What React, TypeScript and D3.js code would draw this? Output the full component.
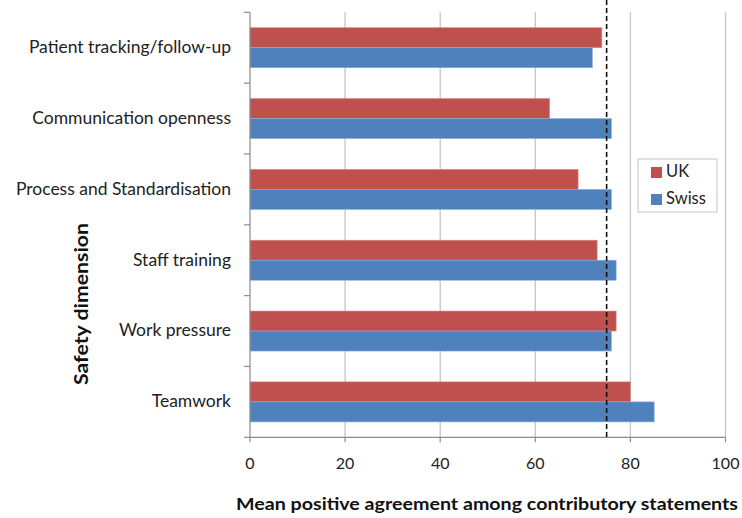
import React from "react";
import * as d3 from "d3";

const categories = [
  "Patient tracking/follow-up",
  "Communication openness",
  "Process and Standardisation",
  "Staff training",
  "Work pressure",
  "Teamwork",
];
const seriesNames = ["UK", "Swiss"];
const ukValues = [74, 63, 69, 73, 77, 80];
const swissValues = [72, 76, 76, 77, 76, 85];
const xTicks = [0, 20, 40, 60, 80, 100];
const referenceValue = 75;
const colors = ["#C0504D", "#4F81BD"];

const W = 742;
const H = 518;
const left = 250;
const right = 725.5;
const top = 12.3;
const bottom = 437.3;
const font = "Lato, 'Open Sans', sans-serif";

export default function App() {
  const x = d3.scaleLinear().domain([0, 100]).range([left, right]);
  const y = d3
    .scaleBand<string>()
    .domain(categories)
    .range([top, bottom])
    .paddingInner(0.435)
    .paddingOuter(0.2175);
  const sub = d3.scaleBand<string>().domain(seriesNames).range([0, y.bandwidth()]);
  const values = [ukValues, swissValues];
  const step = y.step();
  const boundaries = d3.range(categories.length + 1).map((i) => top + i * step);

  return (
    <svg
      width={W}
      height={H}
      style={{ position: "absolute", left: 0, top: 0, background: "#fff" }}
      fontFamily={font}
    >
      <rect width={W} height={H} fill="#fff" />
      {/* gridlines */}
      {xTicks.slice(1).map((t) => (
        <line key={t} x1={x(t)} x2={x(t)} y1={top} y2={bottom} stroke="#c4c4c4" strokeWidth={1.3} />
      ))}
      {/* bars */}
      {categories.map((c, i) => (
        <g key={c} transform={`translate(0,${y(c)})`}>
          {seriesNames.map((s, j) => (
            <rect
              key={s}
              x={x(0)}
              y={sub(s)}
              width={x(values[j][i]) - x(0)}
              height={sub.bandwidth()}
              fill={colors[j]}
              stroke={j === 0 ? "#d88a88" : "#8aaedb"}
              strokeWidth={0.6}
            />
          ))}
        </g>
      ))}
      {/* axes */}
      <line x1={left} x2={left} y1={top} y2={bottom} stroke="#8c8c8c" strokeWidth={1.2} />
      <line x1={left} x2={right} y1={bottom} y2={bottom} stroke="#8c8c8c" strokeWidth={1.2} />
      {boundaries.map((b, i) => (
        <line key={i} x1={left - 6} x2={left} y1={b} y2={b} stroke="#8c8c8c" strokeWidth={1.2} />
      ))}
      {xTicks.map((t) => (
        <g key={t}>
          <line x1={x(t)} x2={x(t)} y1={bottom} y2={bottom + 5} stroke="#8c8c8c" strokeWidth={1.2} />
          <text x={x(t)} y={bottom + 32} textAnchor="middle" fontSize={16} fill="#222">
            {t}
          </text>
        </g>
      ))}
      {/* category labels */}
      {categories.map((c) => (
        <text
          key={c}
          x={231}
          y={(y(c) as number) + y.bandwidth() / 2 + 1}
          textAnchor="end"
          dominantBaseline="middle"
          fontSize={17.5}
          fill="#222"
        >
          {c}
        </text>
      ))}
      {/* reference dashed line */}
      <line
        x1={x(referenceValue)}
        x2={x(referenceValue)}
        y1={0}
        y2={bottom}
        stroke="#111"
        strokeWidth={1.6}
        strokeDasharray="5,3"
      />
      {/* legend */}
      <rect x={638} y={159} width={79} height={53} fill="#fff" stroke="#c4c4c4" strokeWidth={1} />
      {seriesNames.map((s, j) => (
        <g key={s} transform={`translate(651,${167 + j * 27})`}>
          <rect width={11} height={11} fill={colors[j]} />
          <text x={15} y={6} dominantBaseline="middle" fontSize={16.5} fill="#222">
            {s}
          </text>
        </g>
      ))}
      {/* axis titles */}
      <text
        x={487}
        y={510}
        textAnchor="middle"
        fontSize={17}
        fontWeight="bold"
        fill="#111"
        textLength={502}
        lengthAdjust="spacingAndGlyphs"
      >
        Mean positive agreement among contributory statements
      </text>
      <text
        transform="translate(88,304) rotate(-90)"
        textAnchor="middle"
        fontSize={19.5}
        fontWeight="bold"
        fill="#111"
        textLength={162}
        lengthAdjust="spacingAndGlyphs"
      >
        Safety dimension
      </text>
    </svg>
  );
}
